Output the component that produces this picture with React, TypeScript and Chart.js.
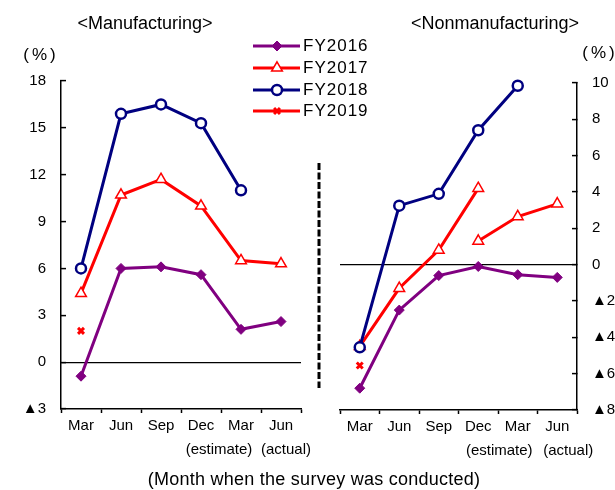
import React, { useEffect, useRef } from 'react';
import { Chart, registerables } from 'chart.js';

Chart.register(...registerables);

const FONT = '"Liberation Sans", Arial, Helvetica, sans-serif';
const W = 615;
const H = 490;

// ---- data ----
const categories = ['Mar', 'Jun', 'Sep', 'Dec', 'Mar', 'Jun'];
const subLabels = ['', '', '', '(estimate)', '', '(actual)'];
const seriesNames = ['FY2016', 'FY2017', 'FY2018', 'FY2019'];

const mfgFY2016 = [-0.9, 6.0, 6.1, 5.6, 2.1, 2.6];
const mfgFY2017 = [4.4, 10.7, 11.7, 10.0, 6.5, 6.3];
const mfgFY2018 = [6.0, 15.9, 16.5, 15.3, 11.0, null];
const mfgFY2019 = [2.0, null, null, null, null, null];

const nonFY2016 = [-6.8, -2.5, -0.6, -0.1, -0.55, -0.7];
const nonFY2017 = [-4.5, -1.3, 0.8, 4.2, null, null];
const nonFY2017Revised = [null, null, null, 1.3, 2.65, 3.35];
const nonFY2018 = [-4.55, 3.25, 3.9, 7.4, 9.85, null];
const nonFY2019 = [-5.55, null, null, null, null, null];

const mfgAxis = { min: -3, max: 18, step: 3 };
const nonAxis = { min: -8, max: 10, step: 2 };

// ---- styles ----
const PURPLE = '#800080';
const RED = '#FF0000';
const NAVY = '#000080';

type St = { color: string; fill: string; shape: string; r: number; pbw: number; order: number };
const STYLES: Record<string, St> = {
  FY2016: { color: PURPLE, fill: PURPLE, shape: 'rectRot', r: 5, pbw: 1, order: 3 },
  FY2017: { color: RED, fill: '#FFFFFF', shape: 'triangle', r: 6.2, pbw: 1.5, order: 2 },
  FY2018: { color: NAVY, fill: '#FFFFFF', shape: 'circle', r: 5, pbw: 2.5, order: 0 },
  FY2019: { color: RED, fill: RED, shape: 'crossRot', r: 4.2, pbw: 3, order: 1 },
};

function ds(label: string, data: (number | null)[], name: string) {
  const st = STYLES[name];
  return {
    label,
    data,
    borderColor: st.color,
    backgroundColor: st.fill,
    borderWidth: 3,
    pointStyle: st.shape,
    pointRadius: st.r,
    pointBorderWidth: st.pbw,
    pointBackgroundColor: st.fill,
    pointBorderColor: st.color,
    tension: 0,
    spanGaps: false,
    clip: false,
    order: st.order,
  };
}

const fmt = (v: any) => (Number(v) < 0 ? '\u25B2' + Math.abs(Number(v)) : String(v));

function xScale(height: number) {
  return {
    type: 'category',
    offset: true,
    grid: {
      offset: true,
      drawOnChartArea: false,
      tickLength: 4,
      tickColor: '#000',
      tickWidth: 1.5,
    },
    border: { display: true, color: '#000', width: 1.5 },
    ticks: {
      color: '#000',
      font: { family: FONT, size: 15 },
      padding: 4,
      autoSkip: false,
      maxRotation: 0,
    },
    afterFit: (s: any) => {
      s.height = height;
    },
  };
}

function yScale(position: string, axis: { min: number; max: number; step: number }, width: number) {
  return {
    type: 'linear',
    position,
    min: axis.min,
    max: axis.max,
    ticks: {
      stepSize: axis.step,
      color: '#000',
      font: { family: FONT, size: 15 },
      padding: 20,
      callback: fmt,
    },
    grid: {
      drawOnChartArea: true,
      color: (c: any) => (c.tick && c.tick.value === 0 ? '#000' : 'rgba(0,0,0,0)'),
      lineWidth: 1.2,
      tickLength: -5,
      tickColor: '#000',
      tickWidth: 1.5,
    },
    border: { display: true, color: '#000', width: 1.5 },
    afterFit: (s: any) => {
      s.width = width;
    },
  };
}

function subLabelPlugin(shifts: number[]) {
  return {
    id: 'subLabels',
    afterDraw(chart: any) {
      const xs = chart.scales.x;
      const ctx = chart.ctx;
      ctx.save();
      ctx.font = `15px ${FONT}`;
      ctx.fillStyle = '#000';
      ctx.textAlign = 'center';
      ctx.textBaseline = 'middle';
      subLabels.forEach((t, i) => {
        if (!t) return;
        ctx.fillText(t, xs.getPixelForTick(i) + shifts[i], xs.top + 41);
      });
      ctx.restore();
    },
  };
}

function drawMarker(ctx: CanvasRenderingContext2D, st: St, cx: number, cy: number) {
  ctx.save();
  ctx.lineWidth = st.pbw;
  ctx.strokeStyle = st.color;
  ctx.fillStyle = st.fill;
  ctx.setLineDash([]);
  ctx.beginPath();
  const r = st.r;
  if (st.shape === 'rectRot') {
    ctx.moveTo(cx, cy - r);
    ctx.lineTo(cx + r, cy);
    ctx.lineTo(cx, cy + r);
    ctx.lineTo(cx - r, cy);
    ctx.closePath();
    ctx.fill();
    ctx.stroke();
  } else if (st.shape === 'triangle') {
    for (let k = 0; k < 3; k++) {
      const a = -Math.PI / 2 + (k * 2 * Math.PI) / 3;
      const px = cx + Math.cos(a) * r;
      const py = cy + Math.sin(a) * r;
      if (k === 0) ctx.moveTo(px, py);
      else ctx.lineTo(px, py);
    }
    ctx.closePath();
    ctx.fill();
    ctx.stroke();
  } else if (st.shape === 'circle') {
    ctx.arc(cx, cy, r, 0, Math.PI * 2);
    ctx.fill();
    ctx.stroke();
  } else {
    const d = r * Math.SQRT1_2;
    ctx.moveTo(cx - d, cy - d);
    ctx.lineTo(cx + d, cy + d);
    ctx.moveTo(cx + d, cy - d);
    ctx.lineTo(cx - d, cy + d);
    ctx.stroke();
  }
  ctx.restore();
}

const decorPlugin = {
  id: 'decor',
  afterDraw(chart: any) {
    const ctx: CanvasRenderingContext2D = chart.ctx;
    ctx.save();
    ctx.fillStyle = '#000';
    ctx.textBaseline = 'middle';
    ctx.textAlign = 'center';

    // titles
    ctx.font = `18px ${FONT}`;
    ctx.fillText('<Manufacturing>', 145, 24);
    ctx.fillText('<Nonmanufacturing>', 495, 24);

    // unit labels
    ctx.font = `17px ${FONT}`;
    (ctx as any).letterSpacing = '3px';
    ctx.fillText('(%)', 41, 55);
    ctx.fillText('(%)', 600, 53);
    (ctx as any).letterSpacing = '0px';

    // bottom caption
    ctx.font = `18px ${FONT}`;
    (ctx as any).letterSpacing = '0.25px';
    ctx.fillText('(Month when the survey was conducted)', 314, 480);
    (ctx as any).letterSpacing = '0px';

    // dashed separator
    ctx.save();
    ctx.strokeStyle = '#000';
    ctx.lineWidth = 3;
    ctx.setLineDash([7, 2.5]);
    ctx.beginPath();
    ctx.moveTo(319, 163);
    ctx.lineTo(319, 388);
    ctx.stroke();
    ctx.restore();

    // legend
    const rowsY = [46, 68, 90, 111];
    ctx.textAlign = 'left';
    ctx.font = `17px ${FONT}`;
    (ctx as any).letterSpacing = '1px';
    seriesNames.forEach((name, i) => {
      const st = STYLES[name];
      const y = rowsY[i];
      ctx.save();
      ctx.strokeStyle = st.color;
      ctx.lineWidth = 3;
      ctx.beginPath();
      ctx.moveTo(253, y);
      ctx.lineTo(300, y);
      ctx.stroke();
      ctx.restore();
      drawMarker(ctx, st, 277, y);
      ctx.fillStyle = '#000';
      ctx.fillText(name, 303, y);
    });
    (ctx as any).letterSpacing = '0px';
    ctx.restore();
  },
};

export default function App() {
  const leftRef = useRef<HTMLCanvasElement>(null);
  const rightRef = useRef<HTMLCanvasElement>(null);

  useEffect(() => {
    const common = {
      responsive: false,
      animation: false,
      devicePixelRatio: 1,
      events: [],
      plugins: { legend: { display: false }, tooltip: { enabled: false }, title: { display: false } },
    };

    const left = new Chart(leftRef.current as HTMLCanvasElement, {
      type: 'line',
      data: {
        labels: categories,
        datasets: [
          ds('FY2016', mfgFY2016, 'FY2016'),
          ds('FY2017', mfgFY2017, 'FY2017'),
          ds('FY2018', mfgFY2018, 'FY2018'),
          ds('FY2019', mfgFY2019, 'FY2019'),
        ],
      },
      options: {
        ...common,
        layout: { padding: { left: 0, top: 81, right: W - 301, bottom: 0 } },
        scales: {
          x: xScale(H - 409),
          y: yScale('left', mfgAxis, 61),
        },
      } as any,
      plugins: [subLabelPlugin([0, 0, 0, 18, 0, 5]), decorPlugin],
    } as any);

    const right = new Chart(rightRef.current as HTMLCanvasElement, {
      type: 'line',
      data: {
        labels: categories,
        datasets: [
          ds('FY2016', nonFY2016, 'FY2016'),
          ds('FY2017', nonFY2017, 'FY2017'),
          ds('FY2017 (revised)', nonFY2017Revised, 'FY2017'),
          ds('FY2018', nonFY2018, 'FY2018'),
          ds('FY2019', nonFY2019, 'FY2019'),
        ],
      },
      options: {
        ...common,
        layout: { padding: { left: 340, top: 83, right: 0, bottom: 0 } },
        scales: {
          x: xScale(H - 410),
          y: yScale('right', nonAxis, W - 577),
        },
      } as any,
      plugins: [subLabelPlugin([0, 0, 0, 21, 0, 11])],
    } as any);

    return () => {
      left.destroy();
      right.destroy();
    };
  }, []);

  return (
    <div style={{ position: 'fixed', left: 0, top: 0, width: W, height: H, background: '#fff' }}>
      <canvas ref={leftRef} width={W} height={H} style={{ position: 'absolute', left: 0, top: 0 }} />
      <canvas ref={rightRef} width={W} height={H} style={{ position: 'absolute', left: 0, top: 0 }} />
    </div>
  );
}
